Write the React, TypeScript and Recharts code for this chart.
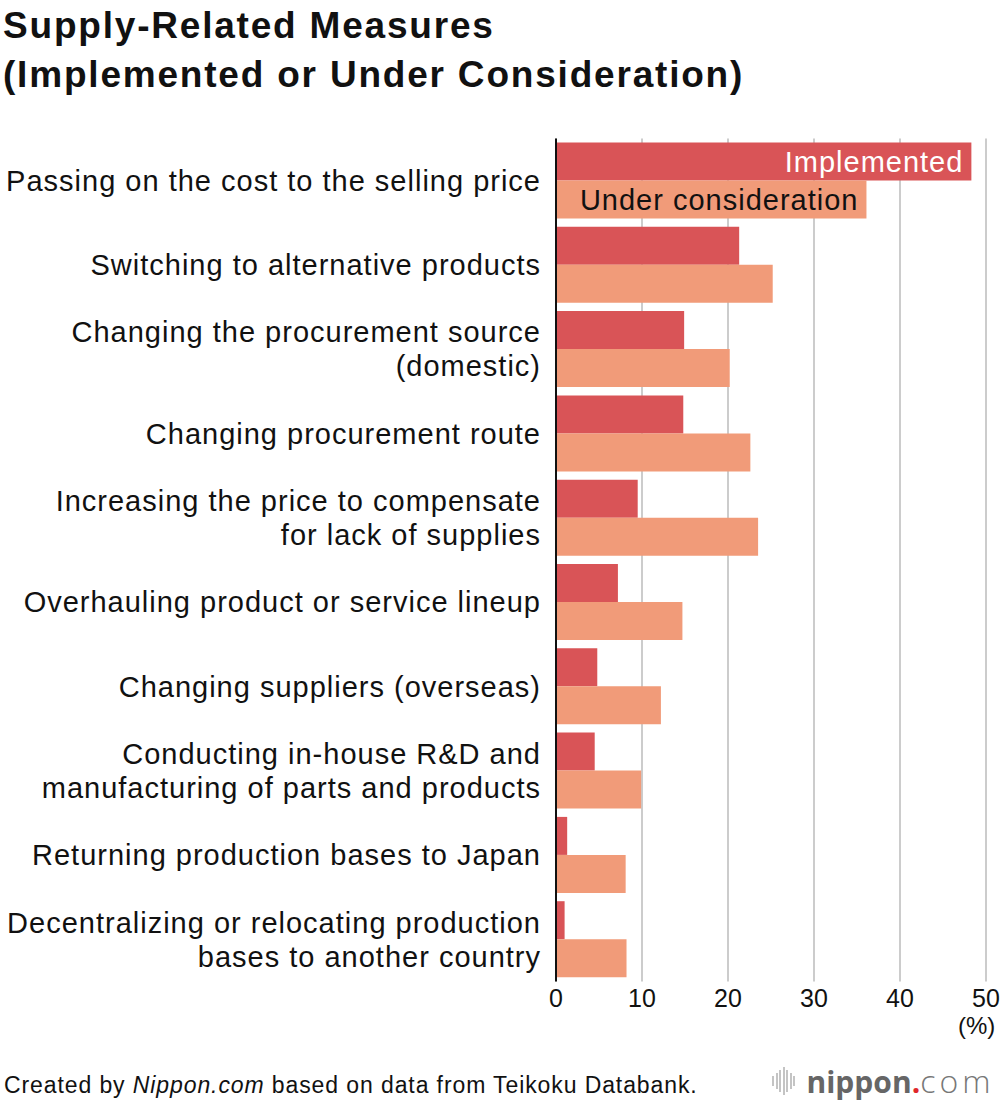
import React from "react";
import { Bar, BarChart, CartesianGrid, LabelList, XAxis, YAxis } from "recharts";

const categories = [
  "Passing on the cost to the selling price",
  "Switching to alternative products",
  "Changing the procurement source\n(domestic)",
  "Changing procurement route",
  "Increasing the price to compensate\nfor lack of supplies",
  "Overhauling product or service lineup",
  "Changing suppliers (overseas)",
  "Conducting in-house R&D and\nmanufacturing of parts and products",
  "Returning production bases to Japan",
  "Decentralizing or relocating production\nbases to another country",
];

const implemented = [48.3, 21.3, 14.9, 14.8, 9.5, 7.2, 4.8, 4.5, 1.3, 1.0];
const underConsideration = [36.1, 25.2, 20.2, 22.6, 23.5, 14.7, 12.2, 9.9, 8.1, 8.2];

const xTicks = [0, 10, 20, 30, 40, 50];

const chartData = categories.map((name, i) => ({
  name,
  implemented: implemented[i],
  underConsideration: underConsideration[i],
}));

const FONT = "'Liberation Sans', Arial, Helvetica, sans-serif";
const LABEL_SIZE = 29;
const LABEL_LS = 1.0;

function CategoryTick({ y, payload }: any) {
  const lines = String(payload.value).split("\n");
  const lh = 34;
  const start = -((lines.length - 1) * lh) / 2;
  const x = 540 + LABEL_LS;
  return (
    <text
      x={x}
      y={y}
      textAnchor="end"
      fontSize={LABEL_SIZE}
      letterSpacing={LABEL_LS}
      fontFamily={FONT}
      fill="#111"
    >
      {lines.map((l, i) => (
        <tspan key={i} x={x} y={y + start + i * lh} dy="0.35em">
          {l}
        </tspan>
      ))}
    </text>
  );
}

function seriesLabel(text: string, color: string) {
  return (props: any) => {
    const { x, y, width, height, index } = props;
    if (index !== 0) return null;
    return (
      <text
        x={x + width - 9 + LABEL_LS}
        y={y + height / 2}
        dy="0.36em"
        textAnchor="end"
        fontSize={LABEL_SIZE}
        letterSpacing={LABEL_LS}
        fontFamily={FONT}
        fill={color}
      >
        {text}
      </text>
    );
  };
}

export default function App() {
  return (
    <div
      style={{
        position: "absolute",
        left: 0,
        top: 0,
        width: 1000,
        height: 1102,
        background: "#fff",
        fontFamily: FONT,
        overflow: "hidden",
      }}
    >
      <div
        style={{
          position: "absolute",
          left: 3,
          top: 1,
          fontSize: 37,
          fontWeight: "bold",
          lineHeight: "49px",
          letterSpacing: 1.8,
          color: "#111",
          whiteSpace: "nowrap",
        }}
      >
        Supply-Related Measures
        <br />
        (Implemented or Under Consideration)
      </div>

      <div style={{ position: "absolute", left: 0, top: 0 }}>
        <BarChart
          width={1000}
          height={1040}
          layout="vertical"
          data={chartData}
          margin={{ top: 138.5, right: 14, bottom: 18.5, left: 0 }}
          barCategoryGap={4}
          barGap={0}
        >
          <CartesianGrid horizontal={false} stroke="#cccccc" strokeWidth={2} />
          <XAxis
            type="number"
            domain={[0, 50]}
            ticks={xTicks}
            axisLine={false}
            tickLine={false}
            height={40}
            tick={{ fontSize: 25, fill: "#111", fontFamily: FONT }}
          />
          <YAxis
            type="category"
            dataKey="name"
            width={556}
            axisLine={{ stroke: "#111", strokeWidth: 2 }}
            tickLine={false}
            tick={<CategoryTick />}
            interval={0}
          />
          <Bar dataKey="implemented" fill="#d95457" isAnimationActive={false}>
            <LabelList dataKey="implemented" content={seriesLabel("Implemented", "#ffffff")} />
          </Bar>
          <Bar dataKey="underConsideration" fill="#f19b79" isAnimationActive={false}>
            <LabelList
              dataKey="underConsideration"
              content={seriesLabel("Under consideration", "#111111")}
            />
          </Bar>
        </BarChart>
      </div>

      <div
        style={{
          position: "absolute",
          left: 958,
          top: 1012,
          fontSize: 24,
          color: "#111",
        }}
      >
        (%)
      </div>

      <div
        style={{
          position: "absolute",
          left: 4,
          top: 1072,
          fontSize: 23,
          letterSpacing: 0.9,
          color: "#111",
          whiteSpace: "nowrap",
        }}
      >
        Created by <i>Nippon.com</i> based on data from Teikoku Databank.
      </div>

      <div
        style={{
          position: "absolute",
          left: 772,
          top: 1063,
          display: "flex",
          alignItems: "center",
          height: 36,
          whiteSpace: "nowrap",
        }}
      >
        {[10, 16, 22, 28, 22, 16, 10].map((h, i) => (
          <div
            key={i}
            style={{
              width: 2,
              height: h,
              background: "#c4c4c4",
              marginRight: 1.5,
            }}
          />
        ))}
        <span
          style={{
            marginLeft: 10,
            fontFamily: "'Open Sans', sans-serif",
            fontSize: 30,
            lineHeight: "36px",
            color: "#666",
            fontWeight: 700,
          }}
        >
          nippon
          <span style={{ color: "#e0262b" }}>.</span>
          <span style={{ fontWeight: 300, color: "#777", fontSize: 32, letterSpacing: 4 }}>
            com
          </span>
        </span>
      </div>
    </div>
  );
}
